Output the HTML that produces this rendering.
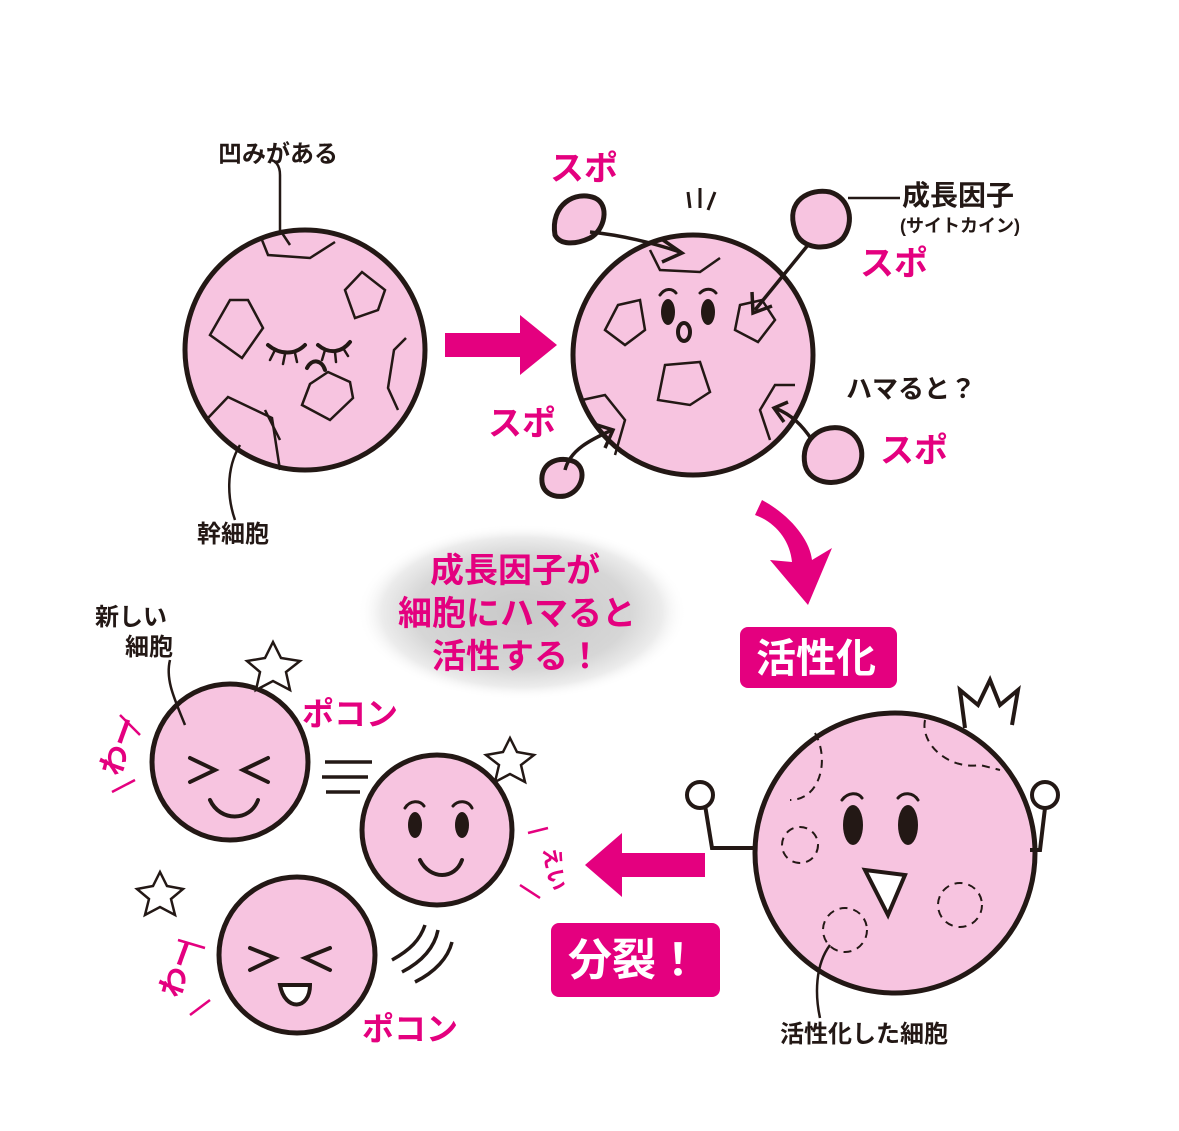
<!DOCTYPE html>
<html><head><meta charset="utf-8"><style>
html,body{margin:0;padding:0;background:#fff;}
svg{display:block;}
text{font-family:"Liberation Sans","Noto Sans CJK JP",sans-serif;font-weight:bold;}
</style></head><body>
<svg width="1179" height="1131" viewBox="0 0 1179 1131" xmlns="http://www.w3.org/2000/svg">
<defs>
<radialGradient id="glow" cx="50%" cy="50%" r="50%">
<stop offset="0" stop-color="#c8c8c8"/><stop offset="0.65" stop-color="#d6d6d6"/><stop offset="0.85" stop-color="#ececec"/><stop offset="1" stop-color="#fff" stop-opacity="0"/>
</radialGradient>
</defs>
<ellipse cx="522" cy="612" rx="165" ry="88" fill="url(#glow)"/>
<g fill="#f7c4e0" stroke="#231815" stroke-width="5">
<circle cx="305" cy="350" r="120"/>
<circle cx="693" cy="355" r="120"/>
<path d="M555 235 C550 205 575 190 595 198 C610 205 605 230 590 238 C575 245 560 245 555 235Z"/>
<path d="M795 230 C785 200 810 188 830 192 C850 198 855 222 843 238 C830 252 800 250 795 230Z"/>
<path d="M542 482 C540 462 560 455 575 462 C588 470 582 492 565 496 C552 498 543 492 542 482Z"/>
<path d="M805 465 C800 440 820 425 840 428 C862 432 868 458 855 473 C840 488 810 485 805 465Z"/>
<circle cx="895" cy="853" r="140"/>
<circle cx="230" cy="762" r="78"/>
<circle cx="437" cy="830" r="75"/>
<circle cx="297" cy="955" r="78"/>
</g>
<g fill="none" stroke="#231815" stroke-width="2.5">
<path d="M262 240 L268 255 L310 258 L335 242"/>
<path d="M230 300 L248 300 L263 328 L242 358 L210 335Z"/>
<path d="M345 290 L362 272 L385 290 L378 310 L355 318Z"/>
<path d="M328 372 L350 382 L353 398 L330 420 L302 405 L310 384Z"/>
<path d="M406 338 L394 350 L388 388 L398 410"/>
<path d="M208 418 L228 397 L272 418 L280 470"/>
<path d="M280 440 L265 410"/>
<path d="M290 245 L280 230 L280 175 C280 165 275 160 270 160"/>
<path d="M240 445 C225 470 228 500 235 520"/>
<path d="M650 250 L660 270 L700 272 L720 258"/>
<path d="M618 305 L640 300 L645 330 L625 345 L605 330Z"/>
<path d="M665 365 L700 362 L710 392 L690 405 L658 400Z"/>
<path d="M740 305 L762 300 L775 320 L758 342 L735 330Z"/>
<path d="M582 400 L605 395 L625 420 L615 455"/>
<path d="M795 385 L775 385 L760 410 L770 440"/>
<g stroke-width="3.5">
<path d="M808 245 L755 310"/><path d="M752 292 L753 313 L772 306"/>
<path d="M590 232 C620 235 650 242 680 252"/><path d="M663 240 L682 253 L662 262"/>
<path d="M565 470 C570 450 590 440 612 430"/><path d="M594 424 L613 430 L605 448"/>
<path d="M812 440 C802 425 792 415 775 408"/><path d="M788 402 L774 408 L784 422"/>
</g>
<path d="M848 198 L900 198"/>
<path d="M688 192 L690 208 M700 188 L700 208 M715 192 L708 210" stroke-width="3"/>
<g stroke-dasharray="8 6" stroke-width="2">
<path d="M815 733 C830 760 820 800 790 800"/>
<path d="M925 720 C920 745 950 770 980 765 L1000 770"/>
<circle cx="800" cy="845" r="18"/>
<circle cx="960" cy="905" r="22"/>
<circle cx="845" cy="930" r="22"/>
</g>
<path d="M830 945 C815 965 815 995 820 1018"/>
<path d="M755 848 L712 848 L705 805" stroke-width="4"/>
<path d="M1030 850 L1040 850 L1045 808" stroke-width="4"/>
<circle cx="700" cy="795" r="13" stroke-width="4" fill="#fff"/>
<circle cx="1045" cy="795" r="13" stroke-width="4" fill="#fff"/>
<path d="M965 728 L960 690 L978 705 L990 680 L1000 705 L1018 690 L1012 725" stroke-width="4"/>
<path d="M185 725 C175 700 165 680 170 660"/>
<path d="M325 762 L372 762 M322 777 L368 777 M326 792 L360 792" stroke-width="3.5"/>
<path d="M392 960 C410 950 420 940 425 925 M402 972 C425 960 435 945 438 930 M415 982 C435 972 448 958 452 942" stroke-width="3.5"/>
<path d="M273 642 L281 658 L300 661 L286 672 L290 690 L273 681 L256 690 L260 672 L247 661 L265 658Z" stroke-width="2.5" fill="#fff"/>
<path d="M510 738 L517 752 L534 755 L521 765 L525 782 L510 774 L495 782 L499 765 L486 755 L503 752Z" stroke-width="2.5" fill="#fff"/>
<path d="M160 872 L167 886 L183 889 L171 899 L175 915 L160 907 L145 915 L149 899 L137 889 L153 886Z" stroke-width="2.5" fill="#fff"/>
<g stroke="#e4007f" stroke-width="2.5">
<path d="M120 715 L140 735 M112 792 L135 780 M528 833 L548 828 M520 885 L540 898 M178 940 L205 948 M190 1015 L210 1000"/>
</g>
</g>
<g stroke="#231815" stroke-width="4" fill="none" stroke-linecap="round">
<path d="M268 345 C280 355 295 355 305 345"/><path d="M318 345 C330 355 342 352 350 342"/>
<path d="M275 350 L270 360 M285 354 L283 364 M295 353 L297 362 M325 350 L322 360 M335 352 L336 362 M343 348 L348 356" stroke-width="2.5"/>
<path d="M307 368 C312 358 322 360 325 370"/>
<path d="M660 295 C665 288 672 288 676 293 M700 293 C705 288 712 288 716 293" stroke-width="3"/>
<path d="M190 758 L215 770 L190 782"/><path d="M268 758 L243 770 L268 782"/>
<path d="M210 800 C220 822 250 822 258 800"/>
<path d="M420 860 C430 880 455 880 462 860"/>
<path d="M405 808 C410 800 420 800 424 806 M453 806 C458 800 468 800 472 808" stroke-width="3"/>
<path d="M250 948 L275 958 L250 970"/><path d="M330 948 L305 958 L330 970"/>
<path d="M842 800 C848 792 858 792 862 798 M898 798 C903 792 913 792 918 800" stroke-width="3"/>
</g>
<g fill="#231815">
<ellipse cx="668" cy="312" rx="7" ry="13"/><ellipse cx="708" cy="312" rx="7" ry="13"/>
<ellipse cx="684" cy="332" rx="6" ry="9" fill="none" stroke="#231815" stroke-width="4"/>
<ellipse cx="415" cy="825" rx="7" ry="13"/><ellipse cx="462" cy="825" rx="7" ry="13"/>
<ellipse cx="853" cy="825" rx="10" ry="20"/><ellipse cx="908" cy="825" rx="10" ry="20"/>
<path d="M280 985 L310 985 C310 1010 285 1012 280 985Z" fill="#fff" stroke="#231815" stroke-width="4"/>
</g>
<path d="M865 870 L905 875 L888 915Z" fill="#fff" stroke="#231815" stroke-width="4"/>
<g fill="#e4007f">
<path d="M445 333 L520 333 L520 315 L557 345 L520 375 L520 357 L445 357Z"/>
<path d="M705 853 L622 853 L622 833 L585 865 L622 897 L622 877 L705 877Z"/>
<path d="M762 500 C790 515 810 540 812 560 L832 548 L808 605 L770 560 L792 562 C790 540 775 522 755 515Z"/>
<rect x="740" y="627" width="157" height="61" rx="8"/>
<rect x="551" y="923" width="169" height="74" rx="8"/>
</g>
<g font-size="24" fill="#231815">
<text x="218" y="162">凹みがある</text>
<text x="197" y="542">幹細胞</text>
<text x="902" y="205" font-size="28">成長因子</text>
<text x="900" y="232" font-size="18">(サイトカイン)</text>
<text x="846" y="398" font-size="26">ハマると？</text>
<text x="95" y="625" font-size="24">新しい</text>
<text x="125" y="655" font-size="24">細胞</text>
<text x="780" y="1042" font-size="24">活性化した細胞</text>
</g>
<g fill="#e4007f" font-size="34">
<text x="550" y="180">スポ</text>
<text x="860" y="275">スポ</text>
<text x="488" y="435">スポ</text>
<text x="880" y="462">スポ</text>
<text x="302" y="725" font-size="32">ポコン</text>
<text x="362" y="1040" font-size="32">ポコン</text>
<text x="430" y="582" font-size="34">成長因子が</text>
<text x="398" y="625" font-size="34">細胞にハマると</text>
<text x="432" y="668" font-size="34">活性する！</text>
<text x="100" y="770" font-size="30" transform="rotate(-70 115 760)">わー</text>
<text x="158" y="990" font-size="30" transform="rotate(-70 175 980)">わー</text>
<text x="525" y="850" font-size="22" transform="rotate(80 535 860)">えい</text>
</g>
<text x="756" y="672" font-size="40" fill="#fff">活性化</text>
<text x="568" y="975" font-size="44" fill="#fff">分裂！</text>
</svg>
</body></html>
